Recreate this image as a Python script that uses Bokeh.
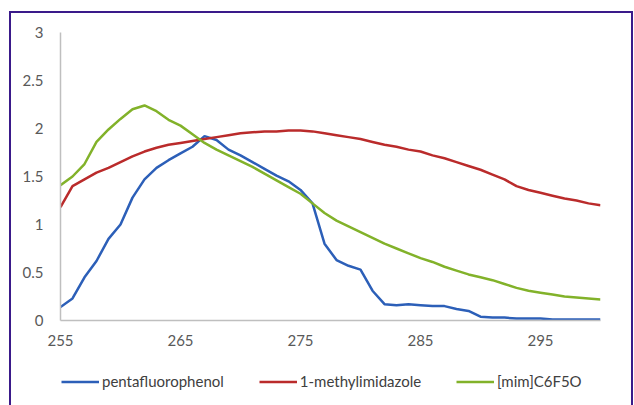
from bokeh.plotting import figure
from bokeh.models import Range1d, Legend, LegendItem, FixedTicker
from bokeh.layouts import column
from bokeh.embed import file_html
from bokeh.resources import INLINE

wavelength = list(range(255, 301))

pentafluorophenol = [0.14, 0.23, 0.45, 0.62, 0.85, 1.00, 1.28, 1.47, 1.59, 1.67,
                     1.74, 1.81, 1.92, 1.88, 1.78, 1.72, 1.65, 1.58, 1.51, 1.45,
                     1.36, 1.22, 0.80, 0.63, 0.57, 0.53, 0.31, 0.17, 0.16, 0.17,
                     0.16, 0.15, 0.15, 0.12, 0.10, 0.04, 0.03, 0.03, 0.02, 0.02,
                     0.02, 0.01, 0.01, 0.01, 0.01, 0.01]

methylimidazole = [1.18, 1.40, 1.47, 1.54, 1.59, 1.65, 1.71, 1.76, 1.80, 1.83,
                   1.85, 1.87, 1.89, 1.91, 1.93, 1.95, 1.96, 1.97, 1.97, 1.98,
                   1.98, 1.97, 1.95, 1.93, 1.91, 1.89, 1.86, 1.83, 1.81, 1.78,
                   1.76, 1.72, 1.69, 1.65, 1.61, 1.57, 1.52, 1.47, 1.40, 1.36,
                   1.33, 1.30, 1.27, 1.25, 1.22, 1.20]

mim_c6f5o = [1.41, 1.50, 1.63, 1.86, 1.99, 2.10, 2.20, 2.24, 2.18, 2.09,
             2.03, 1.94, 1.85, 1.78, 1.72, 1.66, 1.60, 1.53, 1.46, 1.39,
             1.32, 1.22, 1.12, 1.04, 0.98, 0.92, 0.86, 0.80, 0.75, 0.70,
             0.65, 0.61, 0.56, 0.52, 0.48, 0.45, 0.42, 0.38, 0.34, 0.31,
             0.29, 0.27, 0.25, 0.24, 0.23, 0.22]

series_names = ["pentafluorophenol", "1-methylimidazole", "[mim]C6F5O"]
series_colors = ["#2C5FB8", "#BA2B2B", "#82B22A"]
x_ticks = [255, 265, 275, 285, 295]
y_ticks = [0, 0.5, 1, 1.5, 2, 2.5, 3]
series_values = [pentafluorophenol, methylimidazole, mim_c6f5o]

FONT = "Lato"

p = figure(width=620, height=342, output_backend="svg", toolbar_location=None,
           x_range=Range1d(255, 300), y_range=Range1d(0, 3),
           min_border_left=49, min_border_right=31, min_border_top=19,
           min_border_bottom=35)

p.outline_line_color = None
p.xgrid.grid_line_color = None
p.ygrid.grid_line_color = None

for ax in (p.xaxis[0], p.yaxis[0]):
    ax.axis_line_color = "#BFBFBF"
    ax.axis_line_width = 1.5
    ax.major_tick_line_color = None
    ax.minor_tick_line_color = None
    ax.major_label_text_color = "#595959"
    ax.major_label_text_font = FONT
    ax.major_label_text_font_size = "15px"

p.xaxis.ticker = FixedTicker(ticks=x_ticks)
p.yaxis.ticker = FixedTicker(ticks=y_ticks)
p.yaxis.major_label_overrides = {0: "0", 0.5: "0.5", 1: "1", 1.5: "1.5", 2: "2", 2.5: "2.5", 3: "3"}
p.yaxis.major_label_standoff = 11
p.xaxis.major_label_standoff = 8

for ys, c in zip(series_values, series_colors):
    p.line(wavelength, ys, line_color=c, line_width=2.5)

# legend strip below the chart
lg = figure(width=620, height=50, output_backend="svg", toolbar_location=None,
            x_axis_type=None, y_axis_type=None,
            x_range=Range1d(255, 300), y_range=Range1d(0, 3),
            min_border_left=0, min_border_right=0, min_border_top=0, min_border_bottom=0)
lg.outline_line_color = None
lg.xgrid.grid_line_color = None
lg.ygrid.grid_line_color = None
leg_renderers = []
for ys, c in zip(series_values, series_colors):
    r = lg.line(wavelength, ys, line_color=c, line_width=2.5, visible=False)
    leg_renderers.append(r)

legend = Legend(items=[LegendItem(label=n, renderers=[r]) for n, r in zip(series_names, leg_renderers)],
                orientation="horizontal", location=(1, 15),
                label_text_font=FONT, label_text_font_size="15px",
                label_text_color="#404040", glyph_width=38, glyph_height=15,
                label_standoff=3, spacing=35, padding=0, margin=0,
                inactive_fill_alpha=0,
                border_line_color=None, background_fill_alpha=0)
lg.add_layout(legend)

layout = column(p, lg, spacing=0,
                styles={"border": "2px solid #3A1A8A", "border-bottom": "none",
                        "margin-top": "11px", "margin-left": "9px"})

open("out.html", "w").write(file_html(layout, INLINE))
